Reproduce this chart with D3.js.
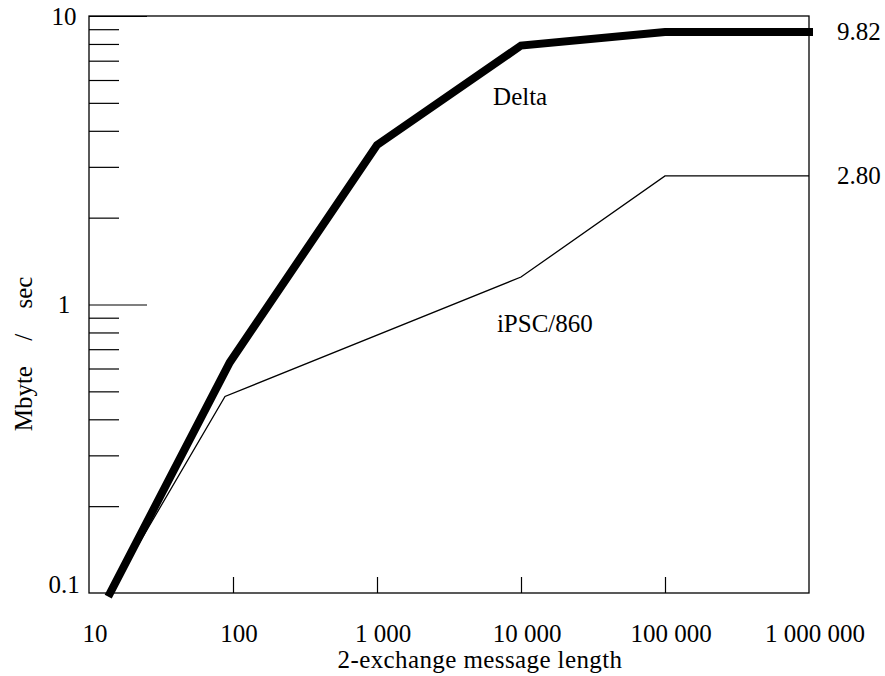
<!DOCTYPE html>
<html lang="en">
<head>
<meta charset="UTF-8">
<title>Delta vs iPSC/860</title>
<style>
  body { margin: 0; background: #fff; }
  svg text { font-family: "Liberation Serif", "Times New Roman", serif; font-size: 25px; fill: #000; }
</style>
</head>
<body>
<div id="chart"></div>
<script src="https://d3js.org/d3.v7.min.js"></script>
<script>

// message lengths (x) and bandwidth in Mbyte/sec (y)
var deltaLen = [14, 95, 1000, 10000, 100000, 1000000];
var deltaRate = [0.1, 0.63, 3.57, 7.9, 8.8, 8.8];
var ipscLen = [14, 88, 10000, 100000, 1000000];
var ipscRate = [0.1, 0.48, 1.245, 2.79, 2.79];

var seriesNames = ["Delta", "iPSC/860"];
var endLabels = ["9.82", "2.80"];
// where the series names sit, in data units
var nameLen = [6400, 6800];
var nameRate = [4.9, 0.8];

var xTicks = [10, 100, 1000, 10000, 100000, 1000000];
var xInnerTicks = [100, 1000, 10000, 100000];
var yTicks = [0.1, 1, 10];
var yMajor = [1, 10];
var yMinor = [0.2, 0.3, 0.4, 0.5, 0.6, 0.7, 0.8, 0.9, 2, 3, 4, 5, 6, 7, 8, 9];

var W = 885, H = 676;
var plotLeft = 89, plotRight = 809, plotTop = 16, plotBottom = 593;

var svg = d3.select("#chart").append("svg")
  .attr("width", W)
  .attr("height", H);

var x = d3.scaleLog().domain([10, 1000000]).range([plotLeft, plotRight]);
var y = d3.scaleLog().domain([0.1, 10]).range([plotBottom, plotTop]);

// frame
svg.append("rect")
  .attr("x", plotLeft).attr("y", plotTop)
  .attr("width", plotRight - plotLeft).attr("height", plotBottom - plotTop)
  .attr("fill", "none").attr("stroke", "#000").attr("stroke-width", 1.3);

// ticks drawn inward, without the axis line or labels
function tickStyle(g) {
  g.select(".domain").remove();
  g.selectAll("line").attr("stroke", "#000").attr("stroke-width", 1.2);
  g.selectAll("text").remove();
}
svg.append("g")
  .attr("transform", "translate(" + plotLeft + ",0)")
  .call(d3.axisRight(y).tickValues(yMinor).tickSize(30).tickFormat(""))
  .call(tickStyle);
svg.append("g")
  .attr("transform", "translate(" + plotLeft + ",0)")
  .call(d3.axisRight(y).tickValues(yMajor).tickSize(58).tickFormat(""))
  .call(tickStyle);

svg.append("g")
  .attr("transform", "translate(0," + plotBottom + ")")
  .call(d3.axisTop(x).tickValues(xInnerTicks).tickSize(16).tickFormat(""))
  .call(tickStyle);

// y tick labels
svg.append("g").selectAll("text")
  .data(yTicks)
  .enter().append("text")
  .attr("x", 64)
  .attr("y", function (d) { return y(d); })
  .attr("dy", function (d) { return d === yTicks[0] ? "0" : "0.35em"; })
  .attr("text-anchor", "middle")
  .text(function (d) { return String(d); });

// x tick labels
var fmt = function (d) { return d3.format(",")(d).replace(/,/g, " "); };
svg.append("g").selectAll("text")
  .data(xTicks)
  .enter().append("text")
  .attr("x", function (d) { return x(d) + 6; })
  .attr("y", 642)
  .attr("text-anchor", "middle")
  .text(fmt);

// axis titles
svg.append("text")
  .attr("x", 480)
  .attr("y", 668)
  .attr("text-anchor", "middle")
  .style("letter-spacing", "0.4px")
  .text("2-exchange message length");

svg.append("text")
  .attr("transform", "translate(32,354) rotate(-90)")
  .attr("text-anchor", "middle")
  .style("word-spacing", "19px")
  .text("Mbyte / sec");

// lines
var line = d3.line()
  .x(function (d) { return x(d[0]); })
  .y(function (d) { return y(d[1]); });

var deltaPts = d3.zip(deltaLen, deltaRate);
var ipscPts = d3.zip(ipscLen, ipscRate);

svg.append("path")
  .datum(ipscPts)
  .attr("d", line)
  .attr("fill", "none")
  .attr("stroke", "#000")
  .attr("stroke-width", 1.3);

svg.append("path")
  .datum(deltaPts)
  .attr("d", line)
  .attr("fill", "none")
  .attr("stroke", "#000")
  .attr("stroke-width", 8)
  .attr("stroke-linecap", "square")
  .attr("stroke-linejoin", "miter");

// series names
svg.append("g").selectAll("text")
  .data(seriesNames)
  .enter().append("text")
  .attr("x", function (d, i) { return x(nameLen[i]); })
  .attr("y", function (d, i) { return y(nameRate[i]); })
  .text(function (d) { return d; });

// end values on the right
var lastRates = [deltaRate[deltaRate.length - 1], ipscRate[ipscRate.length - 1]];
svg.append("g").selectAll("text")
  .data(endLabels)
  .enter().append("text")
  .attr("x", plotRight + 28)
  .attr("y", function (d, i) { return y(lastRates[i]) + 8; })
  .text(function (d) { return d; });

</script>
</body>
</html>
